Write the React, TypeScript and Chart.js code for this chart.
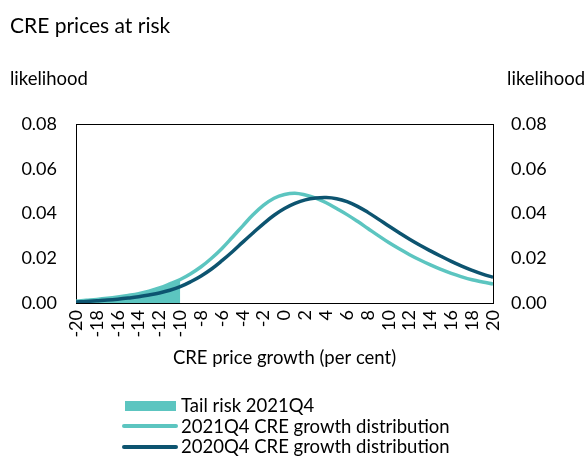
import React, { useEffect, useRef } from 'react';
import { Chart, registerables } from 'chart.js';

Chart.register(...registerables);

// ---- Data ----
const growth = [
  -20, -19, -18, -17, -16, -15, -14, -13, -12, -11, -10, -9, -8, -7, -6, -5, -4, -3, -2, -1,
  0, 1, 2, 3, 4, 5, 6, 7, 8, 9, 10, 11, 12, 13, 14, 15, 16, 17, 18, 19, 20,
];
const dist2021Q4 = [
  0.0008, 0.0012, 0.0016, 0.0021, 0.0027, 0.0034, 0.0042, 0.0053, 0.0067, 0.0085, 0.0105,
  0.0131, 0.0162, 0.02, 0.0244, 0.0294, 0.0345, 0.0395, 0.0437, 0.0468, 0.0485,
  0.0491, 0.0483, 0.0469, 0.0448, 0.0422, 0.0395, 0.0365, 0.0333, 0.0301, 0.027,
  0.0242, 0.0216, 0.0192, 0.017, 0.015, 0.0132, 0.0117, 0.0104, 0.0094, 0.0085,
];
const dist2020Q4 = [
  0.0005, 0.0007, 0.001, 0.0013, 0.0017, 0.0022, 0.0028, 0.0036, 0.0045, 0.0057, 0.0073,
  0.0095, 0.0121, 0.0152, 0.0189, 0.0229, 0.0272, 0.0314, 0.0355, 0.0392, 0.0422,
  0.0445, 0.0461, 0.0469, 0.0471, 0.0466, 0.0453, 0.0432, 0.0405, 0.0375, 0.0344,
  0.0314, 0.0285, 0.0258, 0.0233, 0.0209, 0.0186, 0.0165, 0.0146, 0.0129, 0.0115,
];
const tailCutoff = -10;
const xMin = -20;
const xMax = 20;
const xStep = 2;
const yMin = 0;
const yMax = 0.08;
const yStep = 0.02;

const titleText = 'CRE prices at risk';
const yAxisLabel = 'likelihood';
const xAxisLabel = 'CRE price growth (per cent)';
const legendLabels = [
  'Tail risk 2021Q4',
  '2021Q4 CRE growth distribution',
  '2020Q4 CRE growth distribution',
];

// ---- Styles ----
const LIGHT = '#5CC5C0';
const DARK = '#0D5470';
const FONT = 'Lato, "Noto Sans", sans-serif';

const overlay = {
  id: 'overlay',
  beforeDatasetsDraw(chart: any) {
    const { ctx, chartArea: a } = chart;
    ctx.save();
    ctx.strokeStyle = '#000';
    ctx.lineWidth = 1;
    ctx.strokeRect(
      Math.round(a.left) + 0.5,
      Math.round(a.top) + 0.5,
      Math.round(a.right - a.left),
      Math.round(a.bottom - a.top)
    );
    ctx.restore();
  },
  afterDraw(chart: any) {
    const { ctx, chartArea: a } = chart;
    ctx.save();
    ctx.fillStyle = '#000';
    ctx.textBaseline = 'alphabetic';
    ctx.font = `21px ${FONT}`;
    ctx.textAlign = 'left';
    ctx.fillText(titleText, 10, 33);
    ctx.font = `18.5px ${FONT}`;
    ctx.fillText(yAxisLabel, 10, 85);
    ctx.textAlign = 'right';
    ctx.fillText(yAxisLabel, 585, 85);
    ctx.textAlign = 'center';
    ctx.fillText(xAxisLabel, (a.left + a.right) / 2, 364);

    // legend
    ctx.textAlign = 'left';
    ctx.fillStyle = LIGHT;
    ctx.fillRect(125, 401, 51, 10);
    ctx.lineCap = 'round';
    ctx.lineWidth = 4;
    ctx.strokeStyle = LIGHT;
    ctx.beginPath();
    ctx.moveTo(124, 426);
    ctx.lineTo(176, 426);
    ctx.stroke();
    ctx.strokeStyle = DARK;
    ctx.beginPath();
    ctx.moveTo(124, 447);
    ctx.lineTo(176, 447);
    ctx.stroke();
    ctx.fillStyle = '#000';
    ctx.fillText(legendLabels[0], 181, 412);
    ctx.fillText(legendLabels[1], 181, 433);
    ctx.fillText(legendLabels[2], 181, 453);
    ctx.restore();
  },
};

export default function App() {
  const ref = useRef<HTMLCanvasElement>(null);

  useEffect(() => {
    if (!ref.current) return;
    Chart.defaults.font.family = FONT;
    Chart.defaults.color = '#000';

    const pts2021 = growth.map((x, i) => ({ x, y: dist2021Q4[i] }));
    const pts2020 = growth.map((x, i) => ({ x, y: dist2020Q4[i] }));
    const tail = pts2021.filter((p) => p.x <= tailCutoff);

    const chart = new Chart(ref.current, {
      type: 'line',
      data: {
        datasets: [
          {
            label: legendLabels[0],
            data: tail,
            fill: 'origin',
            backgroundColor: LIGHT,
            borderWidth: 0,
            borderColor: 'rgba(0,0,0,0)',
            pointRadius: 0,
            tension: 0.4,
            order: 3,
          },
          {
            label: legendLabels[1],
            data: pts2021,
            borderColor: LIGHT,
            borderWidth: 3.5,
            pointRadius: 0,
            fill: false,
            tension: 0.4,
            order: 2,
          },
          {
            label: legendLabels[2],
            data: pts2020,
            borderColor: DARK,
            borderWidth: 3.5,
            pointRadius: 0,
            fill: false,
            tension: 0.4,
            order: 1,
          },
        ],
      },
      options: {
        responsive: false,
        animation: false,
        layout: { padding: { top: 124, right: 0, bottom: 83, left: 0 } },
        plugins: {
          legend: { display: false },
          tooltip: { enabled: false },
          title: { display: false },
        },
        scales: {
          x: {
            type: 'linear',
            position: 'bottom',
            min: xMin,
            max: xMax,
            grid: { display: false, drawTicks: false },
            border: { display: false },
            ticks: {
              stepSize: xStep,
              autoSkip: false,
              minRotation: 90,
              maxRotation: 90,
              padding: 7,
              font: { size: 18, family: FONT },
              color: '#000',
              callback: (v: any) => String(v),
            },
            afterFit: (s: any) => {
              s.height = 70;
            },
          },
          y: {
            type: 'linear',
            position: 'left',
            min: yMin,
            max: yMax,
            grid: { display: false, drawTicks: false },
            border: { display: false },
            ticks: {
              stepSize: yStep,
              padding: 19,
              font: { size: 18, family: FONT },
              color: '#000',
              callback: (v: any) => Number(v).toFixed(2),
            },
            afterFit: (s: any) => {
              s.width = 76;
            },
          },
          y2: {
            type: 'linear',
            position: 'right',
            min: yMin,
            max: yMax,
            grid: { display: false, drawTicks: false },
            border: { display: false },
            ticks: {
              stepSize: yStep,
              padding: 18,
              font: { size: 18, family: FONT },
              color: '#000',
              callback: (v: any) => Number(v).toFixed(2),
            },
            afterFit: (s: any) => {
              s.width = 94;
            },
          },
        },
      },
      plugins: [overlay],
    } as any);
    return () => chart.destroy();
  }, []);

  return (
    <div style={{ position: 'fixed', left: 0, top: 0, width: 587, height: 456, background: '#fff' }}>
      <canvas ref={ref} width={587} height={456} style={{ display: 'block' }} />
    </div>
  );
}
